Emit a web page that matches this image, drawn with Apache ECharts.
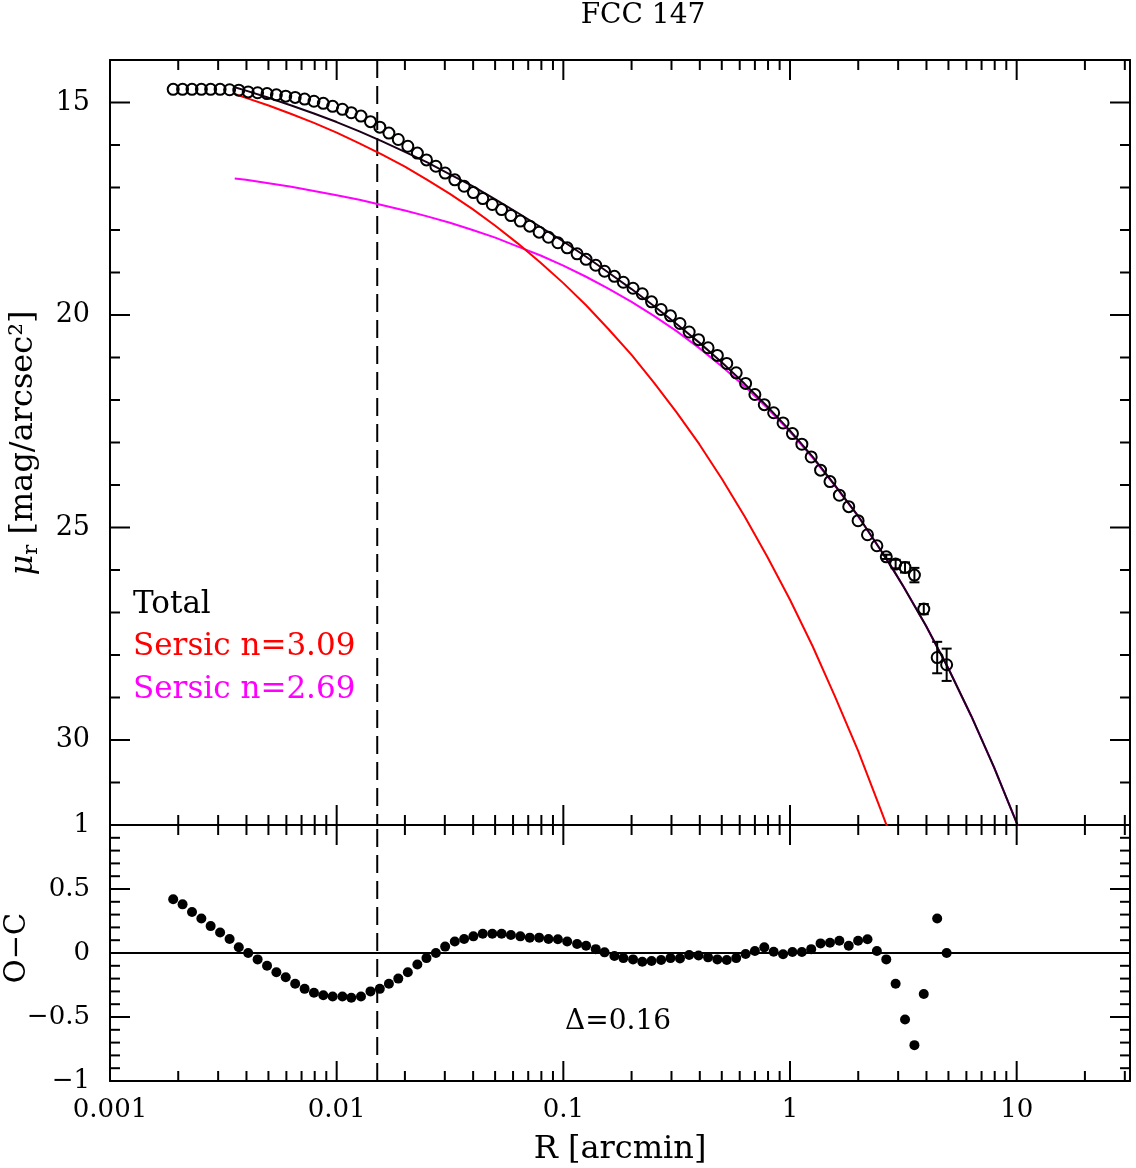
<!DOCTYPE html>
<html>
<head>
<meta charset="utf-8">
<title>FCC 147</title>
<script src="https://cdn.jsdelivr.net/npm/echarts@6/dist/echarts.min.js"></script>
<style>
  html, body { margin: 0; padding: 0; background: #fff; }
  #chart { width: 1136px; height: 1168px; }
</style>
</head>
<body>
<div id="chart"></div>
<script>
/* 面亮度轮廓 数据 */
const radius = [
  0.00190, 0.00209, 0.00230, 0.00253, 0.00278, 0.00306, 0.00337, 0.00370, 0.00407, 0.00448,
  0.00493, 0.00542, 0.00596, 0.00656, 0.00722, 0.00794, 0.00873, 0.00960, 0.0106, 0.0116,
  0.0128, 0.0141, 0.0155, 0.0170, 0.0187, 0.0206, 0.0227, 0.0249, 0.0274, 0.0301,
  0.0332, 0.0365, 0.0401, 0.0441, 0.0486, 0.0534, 0.0587, 0.0646, 0.0711, 0.0782,
  0.0860, 0.0946, 0.104, 0.115, 0.126, 0.139, 0.152, 0.168, 0.184, 0.203,
  0.223, 0.245, 0.270, 0.297, 0.327, 0.359, 0.395, 0.435, 0.478, 0.526,
  0.579, 0.637, 0.700, 0.770, 0.847, 0.932, 1.025, 1.128, 1.240, 1.364,
  1.501, 1.651, 1.816, 1.997, 2.197, 2.417, 2.659, 2.924, 3.217, 3.539,
  3.892, 4.46, 4.91
]
const muObs = [
  14.69, 14.69, 14.69, 14.69, 14.69, 14.69, 14.70, 14.71, 14.75, 14.77,
  14.79, 14.82, 14.85, 14.88, 14.92, 14.97, 15.02, 15.09, 15.16, 15.24,
  15.32, 15.45, 15.58, 15.72, 15.87, 16.03, 16.19, 16.35, 16.50, 16.66,
  16.82, 16.97, 17.12, 17.26, 17.40, 17.52, 17.66, 17.79, 17.91, 18.05,
  18.17, 18.30, 18.42, 18.56, 18.69, 18.83, 18.97, 19.09, 19.23, 19.37,
  19.50, 19.69, 19.87, 20.02, 20.20, 20.40, 20.58, 20.77, 20.95, 21.14,
  21.36, 21.61, 21.87, 22.11, 22.30, 22.54, 22.79, 23.04, 23.34, 23.65,
  23.92, 24.24, 24.51, 24.84, 25.17, 25.43, 25.69, 25.86, 25.94, 26.12,
  26.92, 28.06, 28.23
]
const muErr = [
  0, 0, 0, 0, 0, 0, 0, 0, 0, 0,
  0, 0, 0, 0, 0, 0, 0, 0, 0, 0,
  0, 0, 0, 0, 0, 0, 0, 0, 0, 0,
  0, 0, 0, 0, 0, 0, 0, 0, 0, 0,
  0, 0, 0, 0, 0, 0, 0, 0, 0, 0,
  0, 0, 0, 0, 0, 0, 0, 0, 0, 0,
  0, 0, 0, 0, 0, 0, 0, 0, 0, 0,
  0, 0, 0, 0, 0, 0, 0.05, 0.10, 0.12, 0.17,
  0.12, 0.37, 0.38
]
const residual = [
  0.42, 0.38, 0.32, 0.27, 0.21, 0.16, 0.11, 0.045, 0.0, -0.05,
  -0.10, -0.15, -0.19, -0.24, -0.28, -0.31, -0.33, -0.34, -0.34, -0.35,
  -0.34, -0.30, -0.28, -0.24, -0.20, -0.15, -0.09, -0.04, 0.0, 0.05,
  0.09, 0.11, 0.13, 0.15, 0.15, 0.15, 0.14, 0.13, 0.12, 0.12,
  0.11, 0.107, 0.09, 0.07, 0.057, 0.03, 0.005, -0.023, -0.04, -0.05,
  -0.068, -0.062, -0.055, -0.04, -0.042, -0.016, -0.02, -0.034, -0.05, -0.055,
  -0.04, -0.008, 0.016, 0.044, 0.01, -0.01, 0.008, 0.008, 0.03, 0.075,
  0.08, 0.096, 0.057, 0.096, 0.107, 0.016, -0.05, -0.24, -0.52, -0.72,
  -0.32, 0.27, 0.0
]

/* 模型曲线 */
const modelR = [
  0.00355, 0.00398, 0.00501, 0.00631, 0.00794, 0.0100, 0.0126, 0.0158, 0.0200, 0.0251,
  0.0316, 0.0398, 0.0501, 0.0631, 0.0794, 0.100, 0.126, 0.158, 0.200, 0.251,
  0.316, 0.398, 0.501, 0.631, 0.794, 1.00, 1.26, 1.58, 2.00, 2.51,
  2.82, 3.16, 3.98, 5.01, 6.31, 7.94, 10.0, 10.5
]
const muTotal = [
  14.64, 14.72, 14.89, 15.07, 15.26, 15.46, 15.68, 15.91, 16.16, 16.41,
  16.69, 16.97, 17.28, 17.60, 17.93, 18.27, 18.63, 19.00, 19.39, 19.79,
  20.21, 20.65, 21.12, 21.62, 22.15, 22.72, 23.34, 24.01, 24.73, 25.53,
  25.95, 26.38, 27.31, 28.33, 29.44, 30.64, 31.95, 32.23
]
const muSersic1 = [
  14.80, 14.89, 15.07, 15.27, 15.48, 15.71, 15.96, 16.22, 16.51, 16.82,
  17.15, 17.51, 17.90, 18.32, 18.77, 19.25, 19.77, 20.33, 20.94, 21.59,
  22.29, 23.04, 23.86, 24.74, 25.69, 26.70, 27.80, 28.98, 30.26, 31.63,
  32.35, null, null, null, null, null, null, null
]
const muSersic2 = [
  16.79, 16.82, 16.90, 16.98, 17.08, 17.18, 17.29, 17.41, 17.54, 17.68,
  17.83, 18.00, 18.18, 18.39, 18.60, 18.84, 19.10, 19.38, 19.69, 20.02,
  20.38, 20.78, 21.21, 21.68, 22.19, 22.75, 23.36, 24.02, 24.74, 25.53,
  25.95, 26.38, 27.31, 28.33, 29.44, 30.64, 31.95, 32.23
]
const rCut = 0.0151

/* 坐标刻度 */
const xRange = [0.001, 31.62]
const muRange = [14, 32]
const ocRange = [-1, 1]
const xTickLabels = ['0.001', '0.01', '0.1', '1', '10']
const xMajorTicks = [0.001, 0.01, 0.1, 1, 10]
const xMinorTicks = [
  0.002, 0.003, 0.004, 0.005, 0.006, 0.007, 0.008, 0.009,
  0.02, 0.03, 0.04, 0.05, 0.06, 0.07, 0.08, 0.09,
  0.2, 0.3, 0.4, 0.5, 0.6, 0.7, 0.8, 0.9,
  2, 3, 4, 5, 6, 7, 8, 9,
  20, 30
]
const muMajorTicks = [15, 20, 25, 30]
const muMinorTicks = [16, 17, 18, 19, 21, 22, 23, 24, 26, 27, 28, 29, 31]
const ocMajorTicks = [-0.5, 0, 0.5]
const ocMinorTicks = [
  -0.9, -0.8, -0.7, -0.6, -0.4, -0.3, -0.2, -0.1,
  0.1, 0.2, 0.3, 0.4, 0.6, 0.7, 0.8, 0.9
]

const FONT = 'DejaVu Serif'
const MAJOR = 20
const MINOR = 10

const pairs = (xs, ys) => xs.map((x, i) => [x, ys[i]]).filter((p) => p[1] !== null)

// 刻度线: [x, y, dx, dy]
function tickData(yr) {
  const out = []
  const add = (vals, len) => {
    vals.forEach((v) => {
      out.push([v, yr[0], 0, len])
      out.push([v, yr[1], 0, -len])
    })
  }
  add(xMajorTicks, MAJOR)
  add(xMinorTicks, MINOR)
  return out
}
function yTickData(major, minor) {
  const out = []
  major.forEach((v) => { out.push([xRange[0], v, MAJOR, 0]); out.push([xRange[1], v, -MAJOR, 0]) })
  minor.forEach((v) => { out.push([xRange[0], v, MINOR, 0]); out.push([xRange[1], v, -MINOR, 0]) })
  return out
}
const topTicks = tickData(muRange).concat(yTickData(muMajorTicks, muMinorTicks))
const botTicks = tickData([ocRange[1], ocRange[0]]).concat(yTickData(ocMajorTicks, ocMinorTicks))

function renderTick(params, api) {
  const p = api.coord([api.value(0), api.value(1)])
  return {
    type: 'line',
    shape: { x1: p[0], y1: p[1], x2: p[0] + api.value(2), y2: p[1] + api.value(3) },
    style: { stroke: '#000', lineWidth: 2 },
  }
}

function renderErr(params, api) {
  const x = api.value(0)
  const y = api.value(1)
  const e = api.value(2)
  const a = api.coord([x, y - e])
  const b = api.coord([x, y + e])
  const w = 5
  const st = { stroke: '#000', lineWidth: 2 }
  return {
    type: 'group',
    children: [
      { type: 'line', shape: { x1: a[0], y1: a[1], x2: b[0], y2: b[1] }, style: st },
      { type: 'line', shape: { x1: a[0] - w, y1: a[1], x2: a[0] + w, y2: a[1] }, style: st },
      { type: 'line', shape: { x1: b[0] - w, y1: b[1], x2: b[0] + w, y2: b[1] }, style: st },
    ],
  }
}

const axisLine = { show: true, onZero: false, lineStyle: { color: '#000', width: 2 } }
function xAxisCfg(grid, pos, labels) {
  return {
    type: 'log', logBase: 10, gridIndex: grid, position: pos,
    min: xRange[0], max: xRange[1],
    axisLine: axisLine, axisTick: { show: false }, splitLine: { show: false },
    axisLabel: {
      show: labels, margin: 16, color: '#000', fontFamily: FONT, fontSize: 26,
      showMaxLabel: false,
      formatter: (v) => {
        const k = Math.round(Math.log10(v))
        if (Math.abs(Math.log10(v) - k) > 1e-6) return ''
        const i = xMajorTicks.findIndex((t) => Math.abs(Math.log10(t) - k) < 1e-6)
        return i >= 0 ? xTickLabels[i] : ''
      },
    },
  }
}

const dashed = { color: '#000', width: 2, type: [18, 8] }

var myChart = echarts.init(document.getElementById('chart'))
const option = {
  animation: false,
  backgroundColor: '#fff',
  grid: [
    { left: 110, top: 60, width: 1020, height: 765 },
    { left: 110, top: 825, width: 1020, height: 256 },
  ],
  xAxis: [
    xAxisCfg(0, 'bottom', false),
    xAxisCfg(0, 'top', false),
    xAxisCfg(1, 'bottom', true),
    xAxisCfg(1, 'top', false),
  ],
  yAxis: [
    {
      type: 'value', gridIndex: 0, position: 'left', inverse: true,
      min: muRange[0], max: muRange[1], interval: 1,
      axisLine: axisLine, axisTick: { show: false }, splitLine: { show: false },
      axisLabel: {
        margin: 20, color: '#000', fontFamily: FONT, fontSize: 27,
        formatter: (v) => (muMajorTicks.indexOf(v) >= 0 ? String(v) : ''),
      },
    },
    {
      type: 'value', gridIndex: 0, position: 'right', inverse: true,
      min: muRange[0], max: muRange[1], interval: 1,
      axisLine: axisLine, axisTick: { show: false }, splitLine: { show: false },
      axisLabel: { show: false },
    },
    {
      type: 'value', gridIndex: 1, position: 'left',
      min: ocRange[0], max: ocRange[1], interval: 0.5,
      axisLine: axisLine, axisTick: { show: false }, splitLine: { show: false },
      axisLabel: {
        margin: 20, color: '#000', fontFamily: FONT, fontSize: 26,
        formatter: (v) => String(v).replace('-', '\u2212'),
      },
    },
    {
      type: 'value', gridIndex: 1, position: 'right',
      min: ocRange[0], max: ocRange[1], interval: 0.5,
      axisLine: axisLine, axisTick: { show: false }, splitLine: { show: false },
      axisLabel: { show: false },
    },
  ],
  series: [
    {
      name: 'cutTop', type: 'line', xAxisIndex: 0, yAxisIndex: 0,
      data: [[rCut, muRange[0]], [rCut, muRange[1]]], symbol: 'none',
      lineStyle: dashed, silent: true,
    },
    {
      name: 'cutBot', type: 'line', xAxisIndex: 2, yAxisIndex: 2,
      data: [[rCut, ocRange[0]], [rCut, ocRange[1]]], symbol: 'none',
      lineStyle: dashed, silent: true,
    },
    {
      name: 'zero', type: 'line', xAxisIndex: 2, yAxisIndex: 2,
      data: [[xRange[0], 0], [xRange[1], 0]], symbol: 'none',
      lineStyle: { color: '#000', width: 2 }, silent: true,
    },
    {
      name: 'Sersic n=2.69', type: 'line', xAxisIndex: 0, yAxisIndex: 0,
      data: pairs(modelR, muSersic2), showSymbol: false, symbol: 'none',
      lineStyle: { color: '#ff00ff', width: 2 },
    },
    {
      name: 'Sersic n=3.09', type: 'line', xAxisIndex: 0, yAxisIndex: 0,
      data: pairs(modelR, muSersic1), showSymbol: false, symbol: 'none',
      lineStyle: { color: '#ff0000', width: 2 },
    },
    {
      name: 'Total', type: 'line', xAxisIndex: 0, yAxisIndex: 0,
      data: pairs(modelR, muTotal), showSymbol: false, symbol: 'none',
      lineStyle: { color: '#1a0018', width: 2 },
    },
    {
      name: 'err', type: 'custom', xAxisIndex: 0, yAxisIndex: 0,
      data: radius.map((r, i) => [r, muObs[i], muErr[i]]).filter((d) => d[2] > 0),
      renderItem: renderErr, z: 4,
    },
    {
      name: 'obs', type: 'scatter', xAxisIndex: 0, yAxisIndex: 0,
      data: pairs(radius, muObs), symbol: 'circle', symbolSize: 11,
      itemStyle: { color: 'rgba(0,0,0,0)', borderColor: '#000', borderWidth: 2, opacity: 1 },
      z: 5,
    },
    {
      name: 'O-C', type: 'scatter', xAxisIndex: 2, yAxisIndex: 2,
      data: pairs(radius, residual), symbol: 'circle', symbolSize: 10,
      itemStyle: { color: '#000', opacity: 1 },
      z: 5,
    },
    {
      name: 'ticksTop', type: 'custom', xAxisIndex: 0, yAxisIndex: 0,
      dimensions: ['x', 'y', 'dx', 'dy'], encode: { x: 0, y: 1 },
      data: topTicks, renderItem: renderTick, silent: true, z: 10,
    },
    {
      name: 'ticksBot', type: 'custom', xAxisIndex: 2, yAxisIndex: 2,
      dimensions: ['x', 'y', 'dx', 'dy'], encode: { x: 0, y: 1 },
      data: botTicks, renderItem: renderTick, silent: true, z: 10,
    },
  ],
  graphic: [
    {
      type: 'text', x: 643, y: 16,
      style: { text: 'FCC 147', font: '28px "DejaVu Serif"', fill: '#000', textAlign: 'center', textVerticalAlign: 'middle', align: 'center', verticalAlign: 'middle' },
    },
    {
      type: 'text', x: 24, y: 443, rotation: Math.PI / 2,
      style: {
        text: '{mu|\u03bc}{sub|r} [mag/arcsec\u00b2]',
        font: '32px "DejaVu Serif"', fill: '#000',
        textAlign: 'center', textVerticalAlign: 'middle', align: 'center', verticalAlign: 'middle',
        rich: {
          mu: { font: 'italic 32px "DejaVu Serif"', fill: '#000' },
          sub: { font: '21px "DejaVu Serif"', fill: '#000', padding: [16, 0, 0, 0] },
        },
      },
    },
    {
      type: 'text', x: 17, y: 948, rotation: Math.PI / 2,
      style: { text: 'O\u2212C', font: '29px "DejaVu Serif"', fill: '#000', textAlign: 'center', textVerticalAlign: 'middle', align: 'center', verticalAlign: 'middle' },
    },
    {
      type: 'text', x: 620, y: 1150,
      style: { text: 'R [arcmin]', font: '32px "DejaVu Serif"', fill: '#000', textAlign: 'center', textVerticalAlign: 'middle', align: 'center', verticalAlign: 'middle' },
    },
    {
      type: 'text', x: 133, y: 605,
      style: { text: 'Total', font: '31px "DejaVu Serif"', fill: '#000', textVerticalAlign: 'middle', verticalAlign: 'middle' },
    },
    {
      type: 'text', x: 133, y: 647,
      style: { text: 'Sersic n=3.09', font: '31px "DejaVu Serif"', fill: '#ff0000', textVerticalAlign: 'middle', verticalAlign: 'middle' },
    },
    {
      type: 'text', x: 133, y: 690,
      style: { text: 'Sersic n=2.69', font: '31px "DejaVu Serif"', fill: '#ff00ff', textVerticalAlign: 'middle', verticalAlign: 'middle' },
    },
    {
      type: 'text', x: 565, y: 1022,
      style: { text: '\u0394=0.16', font: '28px "DejaVu Serif"', fill: '#000', textVerticalAlign: 'middle', verticalAlign: 'middle' },
    },
  ],
}
myChart.setOption(option)
</script>
</body>
</html>
